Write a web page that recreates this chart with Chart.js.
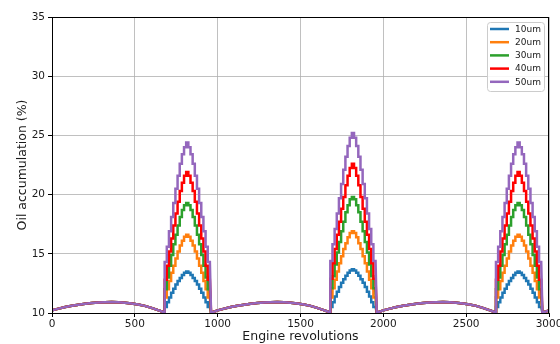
<!DOCTYPE html>
<html>
<head>
<meta charset="utf-8">
<script src="https://cdn.jsdelivr.net/npm/chart.js@4"></script>
<style>
  html, body { margin: 0; padding: 0; background: #fff; }
  #box { width: 560px; height: 344px; }
</style>
</head>
<body>
<div id="box"><canvas id="grafico" width="560" height="344"></canvas></div>
<script>
const seriesNames = ['10um', '20um', '30um', '40um', '50um'];
const seriesColors = ['#1f77b4', '#ff7f0e', '#2ca02c', '#ff0000', '#9467bd'];

const xTicks = [0, 500, 1000, 1500, 2000, 2500, 3000];
const yTicks = [10, 15, 20, 25, 30, 35];

// each cycle starts at these revolutions
const cycleStarts = [0, 1000, 2000, 3000];

// low arc between the peaks (revs relative to cycle start)
const arcRevs = [-40, 0, 40, 80, 120, 160, 200, 240, 280, 320, 360, 400, 440, 480, 520, 560, 600, 640, 680];
const arcOil  = [10.02, 10.22, 10.37, 10.50, 10.61, 10.70, 10.78, 10.84, 10.88, 10.91, 10.92, 10.91, 10.87, 10.80, 10.71, 10.60, 10.43, 10.24, 10.04];

// step edges of the peak (revs relative to cycle start)
const stepRevs = [680, 693, 706, 719, 732, 745, 758, 771, 784, 797, 810, 823, 836, 849, 862, 875, 888, 901, 914, 927, 940, 953];

// peak levels, cycles 1 and 3
const peak1_10um = [10.5, 10.9, 11.3, 11.7, 12.05, 12.4, 12.7, 12.95, 13.2, 13.4, 13.5, 13.4, 13.2, 12.95, 12.7, 12.4, 12.05, 11.7, 11.3, 10.9, 10.5];
const peak1_20um = [11.3, 12.0, 12.7, 13.4, 14.0, 14.6, 15.2, 15.7, 16.1, 16.45, 16.6, 16.45, 16.1, 15.7, 15.2, 14.6, 14.0, 13.4, 12.7, 12.0, 11.3];
const peak1_30um = [12.0, 13.0, 14.0, 14.9, 15.8, 16.6, 17.4, 18.1, 18.7, 19.1, 19.3, 19.1, 18.7, 18.1, 17.4, 16.6, 15.8, 14.9, 14.0, 13.0, 12.0];
const peak1_40um = [12.8, 14.0, 15.2, 16.3, 17.4, 18.4, 19.4, 20.3, 21.0, 21.6, 21.9, 21.6, 21.0, 20.3, 19.4, 18.4, 17.4, 16.3, 15.2, 14.0, 12.8];
const peak1_50um = [14.3, 15.6, 16.9, 18.1, 19.3, 20.5, 21.6, 22.6, 23.4, 24.0, 24.4, 24.0, 23.4, 22.6, 21.6, 20.5, 19.3, 18.1, 16.9, 15.6, 14.3];

// peak levels, cycle 2
const peak2_10um = [10.5, 10.9, 11.4, 11.8, 12.2, 12.55, 12.85, 13.15, 13.4, 13.6, 13.7, 13.6, 13.4, 13.15, 12.85, 12.55, 12.2, 11.8, 11.4, 10.9, 10.5];
const peak2_20um = [11.3, 12.1, 12.8, 13.5, 14.2, 14.8, 15.4, 15.9, 16.4, 16.75, 16.9, 16.75, 16.4, 15.9, 15.4, 14.8, 14.2, 13.5, 12.8, 12.1, 11.3];
const peak2_30um = [12.1, 13.1, 14.1, 15.1, 16.0, 16.9, 17.7, 18.5, 19.1, 19.6, 19.8, 19.6, 19.1, 18.5, 17.7, 16.9, 16.0, 15.1, 14.1, 13.1, 12.1];
const peak2_40um = [12.9, 14.2, 15.4, 16.6, 17.7, 18.8, 19.8, 20.8, 21.6, 22.25, 22.6, 22.25, 21.6, 20.8, 19.8, 18.8, 17.7, 16.6, 15.4, 14.2, 12.9];
const peak2_50um = [14.4, 15.8, 17.1, 18.4, 19.7, 20.9, 22.1, 23.2, 24.1, 24.8, 25.2, 24.8, 24.1, 23.2, 22.1, 20.9, 19.7, 18.4, 17.1, 15.8, 14.4];

const picos = [
  [peak1_10um, peak2_10um, peak1_10um],
  [peak1_20um, peak2_20um, peak1_20um],
  [peak1_30um, peak2_30um, peak1_30um],
  [peak1_40um, peak2_40um, peak1_40um],
  [peak1_50um, peak2_50um, peak1_50um]
];

function montarSerie(s) {
  const pts = [];
  cycleStarts.forEach((c, k) => {
    arcRevs.forEach((r, i) => {
      const x = c + r;
      if (x >= 0 && x <= 3000) pts.push({ x, y: arcOil[i] });
    });
    const niveis = picos[s][k];
    if (!niveis) return;
    niveis.forEach((v, i) => {
      pts.push({ x: c + stepRevs[i], y: v });
      pts.push({ x: c + stepRevs[i + 1], y: v });
    });
  });
  return pts;
}

const fonte = 'DejaVu Sans';

const molduraLegenda = {
  id: 'molduraLegenda',
  afterDraw(chart) {
    const { ctx, chartArea: a } = chart;
    ctx.save();
    ctx.strokeStyle = '#000';
    ctx.lineWidth = 1;
    ctx.strokeRect(Math.round(a.left) + 0.5, Math.round(a.top) + 0.5,
      Math.round(a.right - a.left) - 1, Math.round(a.bottom - a.top));

    // legend box
    const bx = 487, by = 22, bw = 57, bh = 69, rad = 3;
    ctx.beginPath();
    ctx.roundRect(bx + 0.5, by + 0.5, bw, bh, rad);
    ctx.fillStyle = 'rgba(255,255,255,0.85)';
    ctx.fill();
    ctx.strokeStyle = '#cccccc';
    ctx.stroke();

    ctx.font = '9px "' + fonte + '"';
    ctx.textBaseline = 'middle';
    ctx.textAlign = 'left';
    seriesNames.forEach((nome, i) => {
      const y = 29 + i * 13.2;
      ctx.beginPath();
      ctx.moveTo(490, y);
      ctx.lineTo(509, y);
      ctx.strokeStyle = seriesColors[i];
      ctx.lineWidth = 2.5;
      ctx.stroke();
      ctx.fillStyle = '#1a1a1a';
      ctx.fillText(nome, 515, y + 0.5);
    });
    ctx.restore();
  }
};

new Chart(document.getElementById('grafico'), {
  type: 'line',
  data: {
    datasets: seriesNames.map((nome, i) => ({
      label: nome,
      data: montarSerie(i),
      borderColor: seriesColors[i],
      backgroundColor: seriesColors[i],
      borderWidth: 2.5,
      pointRadius: 0,
      tension: 0,
      fill: false,
      borderJoinStyle: 'miter',
      order: seriesNames.length - i
    }))
  },
  options: {
    responsive: false,
    animation: false,
    events: [],
    layout: { padding: { left: 0, top: 17, right: 11, bottom: 0 } },
    plugins: { legend: { display: false }, tooltip: { enabled: false } },
    scales: {
      x: {
        type: 'linear',
        min: 0,
        max: 3000,
        afterBuildTicks: s => { s.ticks = xTicks.map(v => ({ value: v })); },
        afterFit: s => { s.height = 31; s.paddingLeft = 0; s.paddingRight = 0; },
        ticks: { color: '#1a1a1a', font: { family: fonte, size: 10.5 }, padding: 1, maxRotation: 0, callback: v => String(v) },
        grid: { color: '#b0b0b0', lineWidth: 0.8, drawTicks: true, tickLength: 4, tickColor: '#000', tickWidth: 1 },
        border: { display: false },
        title: { display: true, text: 'Engine revolutions', color: '#1a1a1a', font: { family: fonte, size: 12.5 }, padding: { top: 0, bottom: 0 } }
      },
      y: {
        min: 10,
        max: 35,
        afterBuildTicks: s => { s.ticks = yTicks.map(v => ({ value: v })); },
        afterFit: s => { s.width = 52; },
        ticks: { color: '#1a1a1a', font: { family: fonte, size: 10.5 }, padding: 3, callback: v => String(v) },
        grid: { color: '#b0b0b0', lineWidth: 0.8, drawTicks: true, tickLength: 4, tickColor: '#000', tickWidth: 1 },
        border: { display: false },
        title: { display: true, text: 'Oil accumulation (%)', color: '#1a1a1a', font: { family: fonte, size: 12.5 }, padding: { top: 15, bottom: 0 } }
      }
    }
  },
  plugins: [molduraLegenda]
});
</script>
</body>
</html>
